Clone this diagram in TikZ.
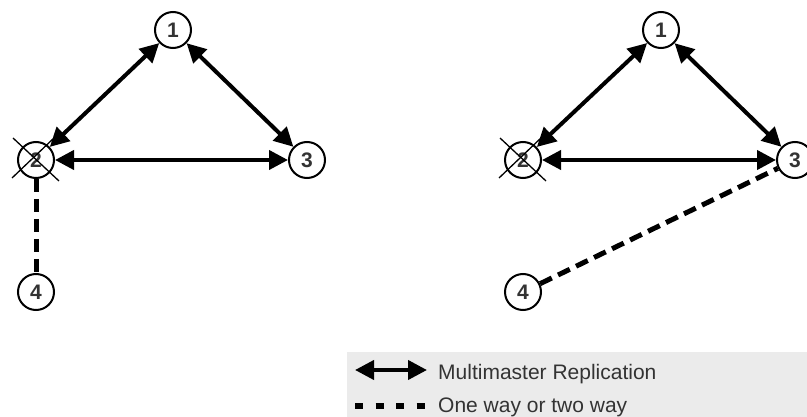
\documentclass[tikz,border=0pt]{standalone}
\usepackage{fontspec}
\setmainfont{Liberation Sans}
\usetikzlibrary{arrows.meta,calc}
\definecolor{txt}{HTML}{333333}
\definecolor{legendbg}{HTML}{EBEBEB}
\begin{document}
\begin{tikzpicture}[x=1pt,y=-1pt,
 srv/.style={circle,draw=black,line width=2pt,fill=white,minimum size=36pt,inner sep=0pt,font=\fontsize{21}{21}\selectfont\bfseries,text=txt},
 repl/.style={line width=4pt,{Triangle[length=19pt,width=19pt]}-{Triangle[length=19pt,width=19pt]}},
 link/.style={line width=5pt,dash pattern=on 13pt off 7pt},
 legdash/.style={line width=5.5pt,dash pattern=on 8pt off 12.5pt},
 xmark/.style={line width=1.3pt},
 legtext/.style={anchor=base west,font=\fontsize{21}{21}\selectfont,text=txt,inner sep=0pt}]
\useasboundingbox (0,0) rectangle (807,417);

% legend background
\fill[legendbg] (347,352) rectangle (807,417);

% left diagram
\node[srv] (L1) at (173,30) {1};
\node[srv] (L2) at (36,160) {2};
\node[srv] (L3) at (307,160) {3};
\node[srv] (L4) at (36,292) {4};
\draw[repl] (L1) -- (L2);
\draw[repl] (L1) -- (L3);
\draw[repl] (L2) -- (L3);
\draw[link] (L2) -- (L4);
\draw[xmark] ($(L2)+(-23,-22)$) -- ($(L2)+(23,21)$);
\draw[xmark] ($(L2)+(18,-22)$) -- ($(L2)+(-24,18)$);

% right diagram
\node[srv] (R1) at (661,30) {1};
\node[srv] (R2) at (523,160) {2};
\node[srv] (R3) at (795,160) {3};
\node[srv] (R4) at (523,292) {4};
\draw[repl] (R1) -- (R2);
\draw[repl] (R1) -- (R3);
\draw[repl] (R2) -- (R3);
\draw[link] (R4) -- (R3);
\draw[xmark] ($(R2)+(-23,-22)$) -- ($(R2)+(23,21)$);
\draw[xmark] ($(R2)+(18,-22)$) -- ($(R2)+(-24,18)$);

% legend
\coordinate (la1) at (355,370);
\coordinate (la2) at (427,370);
\draw[repl] (la1) -- (la2);
\node[legtext] (lt1) at (438,379) {Multimaster Replication};
\coordinate (ld1) at (355,406);
\coordinate (ld2) at (425,406);
\draw[legdash] (ld1) -- (ld2);
\node[legtext] (lt2) at (438,412) {One way or two way};
\end{tikzpicture}
\end{document}
